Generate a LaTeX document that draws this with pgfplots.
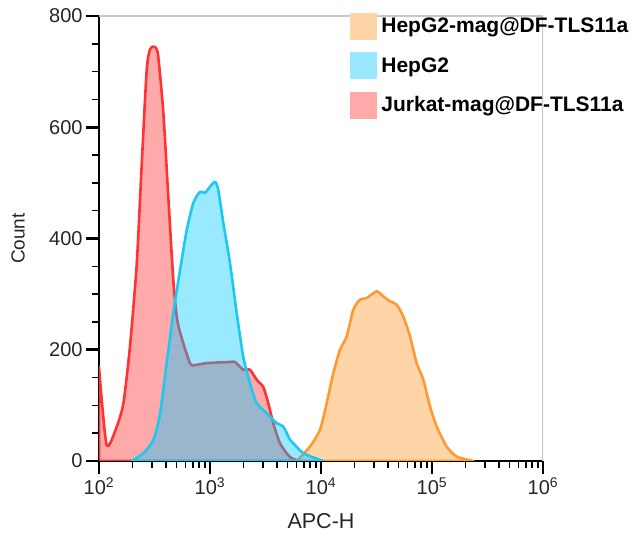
\documentclass[border=0pt]{standalone}
\usepackage{pgfplots}
\pgfplotsset{compat=1.18}
\usepackage{fontspec}
\setmainfont{Liberation Sans}
\definecolor{orline}{RGB}{255,153,51}
\definecolor{orfill}{RGB}{255,213,168}
\definecolor{cyline}{RGB}{30,200,240}
\definecolor{cyfill}{RGB}{0,200,255}
\definecolor{legcy}{RGB}{153,232,255}
\definecolor{rdline}{RGB}{255,51,51}
\definecolor{rdfill}{RGB}{255,170,170}
\definecolor{frame}{RGB}{200,200,200}
\begin{document}
\begin{tikzpicture}
\begin{axis}[
  scale only axis, width=444pt, height=445pt,
  xmode=log, xmin=100, xmax=1000000, ymin=0, ymax=800,
  axis x line*=bottom, axis y line*=left,
  axis line style={-, line width=2.6pt, black},
  xtick={100,1000,10000,100000,1000000},
  xticklabels={10\textsuperscript{2},10\textsuperscript{3},10\textsuperscript{4},10\textsuperscript{5},10\textsuperscript{6}},
  minor xtick={200,300,400,500,600,700,800,900,2000,3000,4000,5000,6000,7000,8000,9000,20000,30000,40000,50000,60000,70000,80000,90000,200000,300000,400000,500000,600000,700000,800000,900000},
  ytick={0,200,400,600,800},
  minor ytick={50,100,150,250,300,350,450,500,550,650,700,750},
  tick align=outside,
  major tick length=13pt, minor tick length=7pt,
  every major tick/.append style={line width=2.6pt, black},
  every minor tick/.append style={line width=1.6pt, black},
  /pgf/number format/assume math mode=true,
  ticklabel style={font=\fontsize{20}{20}\selectfont, text=black!85},
  xlabel={APC-H}, ylabel={Count},
  every axis x label/.style={at={(axis description cs:0.5,-0.1528)}, anchor=base, font=\fontsize{21.5}{21.5}\selectfont, text=black!85},
  every axis y label/.style={at={(axis description cs:-0.1824,0.5)}, rotate=90, anchor=center, font=\fontsize{19}{19}\selectfont, text=black!85},
  legend style={at={(axis description cs:0.5653,1.0067)}, anchor=north west, draw=none, fill=none,
    inner sep=0pt, outer sep=0pt, row sep=13pt, column sep=5pt,
    font=\bfseries\fontsize{21}{21}\selectfont, nodes={inner sep=0pt}},
  legend cell align=left,
]
\addlegendimage{legend image code/.code={\fill[orfill] (0pt,-13pt) rectangle (26pt,13pt);}}
\addlegendentry{HepG2-mag@DF-TLS11a}
\addlegendimage{legend image code/.code={\fill[legcy] (0pt,-13pt) rectangle (26pt,13pt);}}
\addlegendentry{HepG2}
\addlegendimage{legend image code/.code={\fill[rdfill] (0pt,-13pt) rectangle (26pt,13pt);}}
\addlegendentry{Jurkat-mag@DF-TLS11a}

% Jurkat-mag@DF-TLS11a
\addplot[forget plot, draw=rdline, fill=rdfill, line width=2.6pt, line join=round, smooth, tension=0.4] coordinates {
(100,169) (117,29) (144,61) (166,104) (190,205) (219,356) (243,536) (269,703) (288,740) (309,745) (327,742) (342,727) (380,626) (421,475) (467,326) (507,253) (574,212) (660,176) (708,172) (934,176) (1514,178) (1680,178) (1995,164) (2291,164) (2636,146) (3020,133) (3350,104) (3715,68) (4272,32) (5260,7) (6470,0)
} \closedcycle;

% HepG2-mag@DF-TLS11a
\addplot[forget plot, draw=orline, fill=orfill, line width=2.6pt, line join=round, smooth, tension=0.4] coordinates {
(6040,0) (7960,26) (9790,56) (11250,104) (12910,158) (14830,200) (17030,224) (19540,272) (22440,290) (25820,293) (31770,305) (36390,296) (41880,287) (48080,281) (55080,260) (63390,224) (72780,176) (83560,146) (95940,98) (110200,62) (135500,26) (167000,8) (236000,0)
} \closedcycle;

% HepG2
\addplot[forget plot, draw=cyline, fill=cyfill, fill opacity=0.4, line width=2.6pt, line join=round, smooth, tension=0.4] coordinates {
(197,0) (251,14) (309,38) (355,86) (407,176) (467,266) (537,343) (617,415) (708,464) (813,484) (902,482) (1000,493) (1109,502) (1188,487) (1318,428) (1514,356) (1740,266) (1995,187) (2291,140) (2636,104) (3243,86) (3990,68) (4571,62) (5260,38) (5623,32) (6930,14) (9790,2) (10500,0)
} \closedcycle;

\draw[frame, line width=1.3pt] (rel axis cs:0,1) -- (rel axis cs:1,1) -- (rel axis cs:1,0);
\end{axis}
\pgfresetboundingbox
\path (-99pt,-76pt) rectangle (537pt,461pt);
\end{tikzpicture}
\end{document}
